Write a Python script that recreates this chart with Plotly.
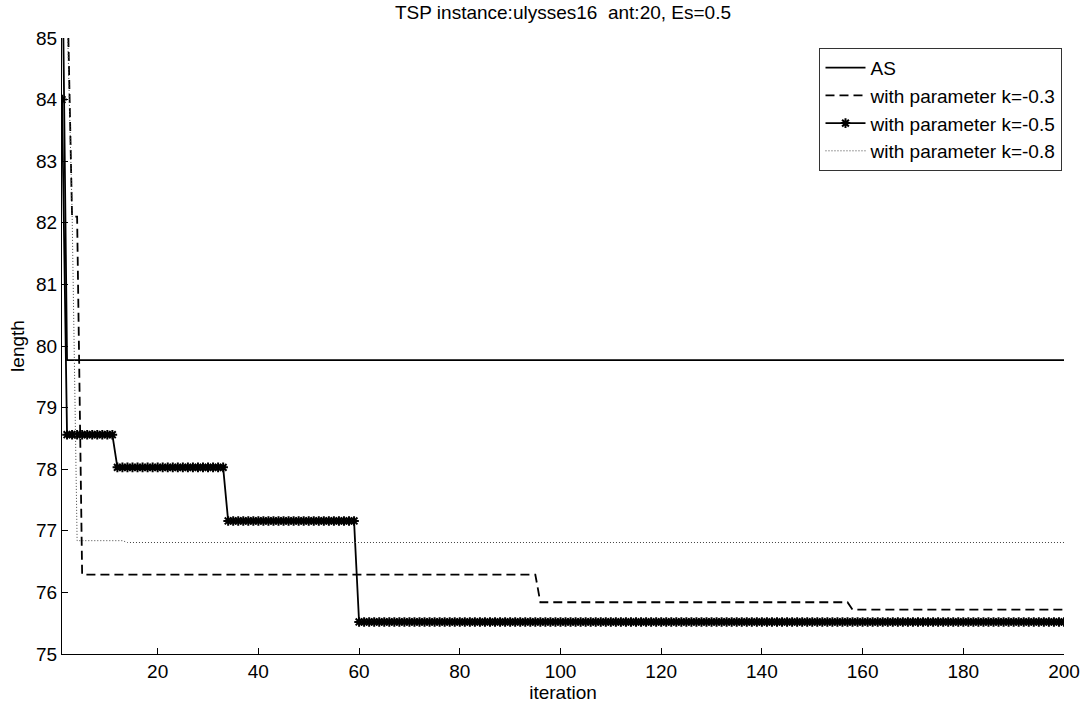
import plotly.graph_objects as go

# Step series described as (start iteration, value) pairs
iterations_max = 200
as_starts = [1, 2]
as_values = [87.0, 79.77]
k03_starts = [1, 2, 3, 5, 96, 158]
k03_values = [90.0, 86.0, 82.1, 76.29, 75.84, 75.72]
k05_starts = [1, 2, 12, 34, 60]
k05_values = [84.0, 78.56, 78.03, 77.16, 75.52]
k08_starts = [1, 2, 3, 4, 14]
k08_values = [90.0, 85.5, 82.2, 76.84, 76.81]

x_ticks = [20, 40, 60, 80, 100, 120, 140, 160, 180, 200]
y_ticks = [75, 76, 77, 78, 79, 80, 81, 82, 83, 84, 85]


def expand(starts, values, n):
    out = []
    for i in range(1, n + 1):
        v = values[0]
        for s, val in zip(starts, values):
            if i >= s:
                v = val
        out.append(v)
    return out


x = list(range(1, iterations_max + 1))
font_family = "Liberation Sans, Arial, sans-serif"

fig = go.Figure()
fig.add_trace(go.Scatter(x=x, y=expand(as_starts, as_values, iterations_max), mode="lines",
                         name="AS", legendgroup="a",
                         line=dict(color="black", width=1.8)))
fig.add_trace(go.Scatter(x=x, y=expand(k03_starts, k03_values, iterations_max), mode="lines",
                         name="with parameter k=-0.3", legendgroup="b",
                         line=dict(color="black", width=1.8, dash="9px,5px")))
fig.add_trace(go.Scatter(x=x, y=expand(k05_starts, k05_values, iterations_max), mode="lines+markers",
                         name="with parameter k=-0.5", legendgroup="c",
                         line=dict(color="black", width=1.8),
                         marker=dict(symbol="asterisk-open", size=8, color="black",
                                     line=dict(color="black", width=2))))
fig.add_trace(go.Scatter(x=x, y=expand(k08_starts, k08_values, iterations_max), mode="lines",
                         name="with parameter k=-0.8", legendgroup="d",
                         line=dict(color="#444444", width=1, dash="1px,2px")))

fig.update_layout(
    width=1092, height=709,
    margin=dict(l=62, r=25, t=38, b=51),
    paper_bgcolor="white", plot_bgcolor="white",
    font=dict(family=font_family, size=19, color="black"),
    title=dict(text="TSP instance:ulysses16  ant:20, Es=0.5", x=0.5, xref="paper",
               xanchor="center", y=1 - 12 / 709, yanchor="middle", font=dict(size=19)),
    showlegend=True,
    legend=dict(x=0.9985, xanchor="right", y=0.984, yanchor="top",
                bgcolor="white", bordercolor="#333333", borderwidth=1,
                font=dict(size=19), tracegroupgap=0, itemwidth=40),
    xaxis=dict(range=[1, 200], tickvals=x_ticks, ticks="inside", ticklen=6,
               tickcolor="black", showline=True, linecolor="black", linewidth=1,
               showgrid=False, zeroline=False, mirror=False,
               title=dict(text="iteration", standoff=2, font=dict(size=19)),
               tickfont=dict(size=19)),
    yaxis=dict(range=[75, 85], tickvals=y_ticks, ticks="inside", ticklen=6,
               tickcolor="black", showline=True, linecolor="black", linewidth=1,
               showgrid=False, zeroline=False, mirror=False,
               title=dict(text="length", standoff=6, font=dict(size=19)),
               tickfont=dict(size=19)),
)

fig.write_html("out.html", config={"displayModeBar": False},
               post_script="document.body.style.margin='0px';")
